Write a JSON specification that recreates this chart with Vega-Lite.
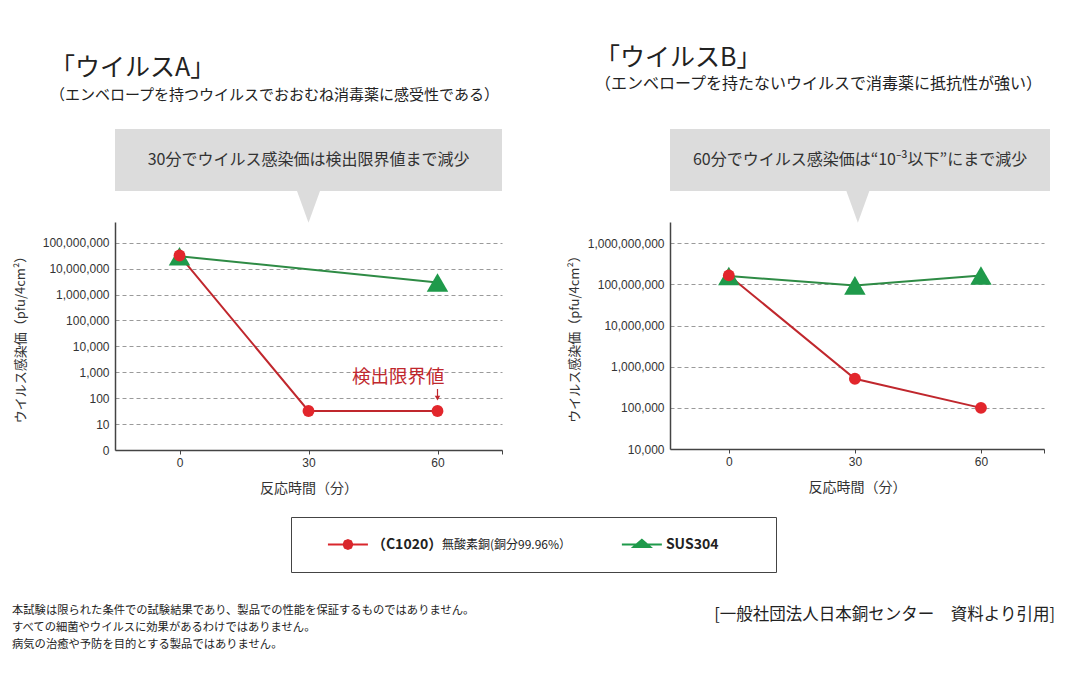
{
  "$schema": "https://vega.github.io/schema/vega-lite/v6.json",
  "background": "white",
  "padding": {"left": 12, "top": 46, "right": 5, "bottom": 5},
  "spacing": 21,
  "config": {
    "font": "Noto Sans CJK JP",
    "view": {"stroke": null},
    "axis": {"labelFont": "Liberation Sans", "titleFont": "Noto Sans CJK JP", "labelColor": "#333", "titleColor": "#333", "titleFontWeight": "normal", "labelFontSize": 12},
    "title": {"font": "Noto Sans CJK JP", "subtitleFont": "Noto Sans CJK JP", "color": "#222", "subtitleColor": "#222", "fontWeight": "normal", "anchor": "start", "frame": "group"}
  },
  "vconcat": [
    {
      "spacing": 65,
      "hconcat": [
        {
          "spacing": 31,
          "bounds": "flush",
          "vconcat": [
            {
              "width": 387,
              "height": 62,
              "view": {"fill": "#dcdcdc", "stroke": null},
              "title": {"text": "「ウイルスA」", "subtitle": "（エンベロープを持つウイルスでおおむね消毒薬に感受性である）", "fontSize": 25, "subtitleFontSize": 15, "dx": -65, "offset": 26, "subtitlePadding": 7},
              "layer": [
                {
                  "data": {"values": [{"msg": "30分でウイルス感染価は検出限界値まで減少"}]},
                  "mark": {"type": "text", "fontSize": 16, "color": "#333"},
                  "encoding": {"text": {"field": "msg"}}
                },
                {
                  "data": {"values": [{"id": 1}]},
                  "mark": {"type": "point", "shape": "M-1,0L1,0L0,2.75Z", "filled": true, "color": "#dcdcdc", "opacity": 1, "size": 529},
                  "encoding": {
                    "x": {"datum": 30, "type": "quantitative", "scale": {"domain": [-15, 75], "nice": false}, "axis": null},
                    "y": {"datum": 0, "type": "quantitative", "scale": {"domain": [0, 1], "nice": false}, "axis": null}
                  }
                }
              ]
            },
            {
              "width": 387,
              "height": 228,
              "layer": [
                {
                  "data": {"values": [
                    {"time": 0, "value": 30000000, "series": "SUS304"},
                    {"time": 60, "value": 2900000, "series": "SUS304"},
                    {"time": 0, "value": 32000000, "series": "C1020"},
                    {"time": 30, "value": 32, "series": "C1020"},
                    {"time": 60, "value": 32, "series": "C1020"}
                  ]},
                  "layer": [
                    {
                      "mark": {"type": "line", "strokeWidth": 2},
                      "encoding": {
                        "stroke": {"field": "series", "type": "nominal", "scale": {"domain": ["SUS304", "C1020"], "range": ["#2e8b45", "#c0272d"]}, "legend": null}
                      }
                    },
                    {
                      "mark": {"type": "point", "filled": true, "opacity": 1},
                      "encoding": {
                        "fill": {"field": "series", "type": "nominal", "scale": {"domain": ["SUS304", "C1020"], "range": ["#1f9a4b", "#e2262c"]}, "legend": null},
                        "shape": {"field": "series", "type": "nominal", "scale": {"domain": ["SUS304", "C1020"], "range": ["triangle-up", "circle"]}, "legend": null},
                        "size": {"field": "series", "type": "nominal", "scale": {"domain": ["SUS304", "C1020"], "range": [460, 140]}, "legend": null}
                      }
                    }
                  ],
                  "encoding": {
                    "x": {"field": "time", "type": "quantitative", "scale": {"domain": [-15, 75], "nice": false, "zero": false},
                      "axis": {"values": [0, 30, 60, 75], "labelExpr": "datum.value == 75 ? '' : datum.label", "title": "反応時間（分）", "grid": false, "domainColor": "#444", "domainWidth": 1.5, "tickColor": "#444", "tickSize": 4, "labelPadding": 3, "titleFontSize": 14, "titlePadding": 13}},
                    "y": {"field": "value", "type": "quantitative", "scale": {"type": "log", "domain": [1, 630000000], "nice": false},
                      "axis": {"values": [1, 10, 100, 1000, 10000, 100000, 1000000, 10000000, 100000000], "labelExpr": "datum.value == 1 ? '0' : format(datum.value, ',')", "title": "ウイルス感染価（pfu/4cm²）", "grid": true, "gridDash": [4, 3], "gridColor": "#9a9a9a", "ticks": false, "domainColor": "#444", "domainWidth": 1.5, "labelPadding": 6, "titleFontSize": 13, "titlePadding": 15}}
                  }
                },
                {
                  "data": {"values": [{"note": "検出限界値"}]},
                  "mark": {"type": "text", "fontSize": 18.5, "color": "#c0272d", "align": "right", "dx": 7},
                  "encoding": {"x": {"datum": 60, "type": "quantitative"}, "y": {"datum": 640, "type": "quantitative"}, "text": {"field": "note"}}
                },
                {
                  "data": {"values": [{"note": "arrow"}]},
                  "mark": {"type": "rule", "color": "#c0272d", "strokeWidth": 1.2},
                  "encoding": {"x": {"datum": 60, "type": "quantitative"}, "y": {"datum": 226, "type": "quantitative"}, "y2": {"datum": 120}}
                },
                {
                  "data": {"values": [{"note": "arrowhead"}]},
                  "mark": {"type": "point", "shape": "triangle-down", "filled": true, "color": "#c0272d", "opacity": 1, "size": 30},
                  "encoding": {"x": {"datum": 60, "type": "quantitative"}, "y": {"datum": 100, "type": "quantitative"}}
                }
              ]
            }
          ]
        },
        {
          "spacing": 31,
          "bounds": "flush",
          "vconcat": [
            {
              "width": 380,
              "height": 62,
              "view": {"fill": "#dcdcdc", "stroke": null},
              "title": {"text": "「ウイルスB」", "subtitle": "（エンベロープを持たないウイルスで消毒薬に抵抗性が強い）", "fontSize": 25, "subtitleFontSize": 16, "dx": -75, "offset": 37, "subtitlePadding": 5},
              "layer": [
                {
                  "data": {"values": [{"msg": "60分でウイルス感染価は“10⁻³以下”にまで減少"}]},
                  "mark": {"type": "text", "fontSize": 16, "color": "#333"},
                  "encoding": {"text": {"field": "msg"}}
                },
                {
                  "data": {"values": [{"id": 1}]},
                  "mark": {"type": "point", "shape": "M-1,0L1,0L0,2.75Z", "filled": true, "color": "#dcdcdc", "opacity": 1, "size": 529},
                  "encoding": {
                    "x": {"datum": 30, "type": "quantitative", "scale": {"domain": [-14, 75], "nice": false}, "axis": null},
                    "y": {"datum": 0, "type": "quantitative", "scale": {"domain": [0, 1], "nice": false}, "axis": null}
                  }
                }
              ]
            },
            {
              "width": 374,
              "height": 227,
              "data": {"values": [
                {"time": 0, "value": 160000000, "series": "SUS304"},
                {"time": 30, "value": 95000000, "series": "SUS304"},
                {"time": 60, "value": 165000000, "series": "SUS304"},
                {"time": 0, "value": 166000000, "series": "C1020"},
                {"time": 30, "value": 510000, "series": "C1020"},
                {"time": 60, "value": 100000, "series": "C1020"}
              ]},
              "layer": [
                {
                  "mark": {"type": "line", "strokeWidth": 2},
                  "encoding": {
                    "stroke": {"field": "series", "type": "nominal", "scale": {"domain": ["SUS304", "C1020"], "range": ["#2e8b45", "#c0272d"]}, "legend": null}
                  }
                },
                {
                  "mark": {"type": "point", "filled": true, "opacity": 1},
                  "encoding": {
                    "fill": {"field": "series", "type": "nominal", "scale": {"domain": ["SUS304", "C1020"], "range": ["#1f9a4b", "#e2262c"]}, "legend": null},
                    "shape": {"field": "series", "type": "nominal", "scale": {"domain": ["SUS304", "C1020"], "range": ["triangle-up", "circle"]}, "legend": null},
                    "size": {"field": "series", "type": "nominal", "scale": {"domain": ["SUS304", "C1020"], "range": [460, 140]}, "legend": null}
                  }
                }
              ],
              "encoding": {
                "x": {"field": "time", "type": "quantitative", "scale": {"domain": [-14, 75], "nice": false, "zero": false},
                  "axis": {"values": [0, 30, 60, 75], "labelExpr": "datum.value == 75 ? '' : datum.label", "title": "反応時間（分）", "grid": false, "domainColor": "#444", "domainWidth": 1.5, "tickColor": "#444", "tickSize": 4, "labelPadding": 3, "titleFontSize": 14, "titlePadding": 13}},
                "y": {"field": "value", "type": "quantitative", "scale": {"type": "log", "domain": [10000, 3300000000], "nice": false},
                  "axis": {"values": [10000, 100000, 1000000, 10000000, 100000000, 1000000000], "labelExpr": "format(datum.value, ',')", "title": "ウイルス感染価（pfu/4cm²）", "grid": true, "gridDash": [4, 3], "gridColor": "#9a9a9a", "ticks": false, "domainColor": "#444", "domainWidth": 1.5, "labelPadding": 6, "titleFontSize": 13, "titlePadding": 6}}
              }
            }
          ]
        }
      ]
    },
    {
      "spacing": 0,
      "hconcat": [
        {
          "width": 175,
          "height": 55,
          "data": {"values": []},
          "mark": {"type": "point"},
          "encoding": {},
          "view": {"stroke": null}
        },
        {
          "width": 485,
          "height": 55,
          "view": {"stroke": "#444", "strokeWidth": 1, "fill": "white"},
          "data": {"values": [
            {"series": "C1020", "code": "（C1020）", "name": "無酸素銅(銅分99.96%）"},
            {"series": "SUS304", "code": "SUS304", "name": ""}
          ]},
          "encoding": {
            "x": {"field": "series", "type": "nominal", "sort": ["C1020", "SUS304"], "scale": {"type": "point", "padding": 0.325, "align": 0.298}, "axis": null}
          },
          "layer": [
            {
              "transform": [{"filter": "datum.series == 'C1020'"}],
              "mark": {"type": "point", "shape": "M-1,0L1,0M-0.22,0L-0.156,-0.156L0,-0.22L0.156,-0.156L0.22,0L0.156,0.156L0,0.22L-0.156,0.156Z", "filled": true, "fill": "#d9262c", "stroke": "#d9262c", "strokeWidth": 2, "opacity": 1, "size": 1600}
            },
            {
              "transform": [{"filter": "datum.series == 'SUS304'"}],
              "mark": {"type": "point", "shape": "M-1,0L1,0M-0.42,0.12L0.42,0.12L0,-0.24Z", "filled": true, "fill": "#1f9a4b", "stroke": "#1f9a4b", "strokeWidth": 2, "opacity": 1, "size": 1600}
            },
            {
              "mark": {"type": "text", "align": "left", "dx": 24, "fontSize": 14, "fontWeight": "bold", "color": "#222"},
              "encoding": {"text": {"field": "code"}}
            },
            {
              "mark": {"type": "text", "align": "left", "dx": 94, "fontSize": 12, "color": "#222"},
              "encoding": {"text": {"field": "name"}}
            }
          ]
        }
      ]
    },
    {
      "width": 940,
      "height": 54,
      "layer": [
        {
          "data": {"values": [
            {"line": "本試験は限られた条件での試験結果であり、製品での性能を保証するものではありません。"},
            {"line": "すべての細菌やウイルスに効果があるわけではありません。"},
            {"line": "病気の治癒や予防を目的とする製品ではありません。"}
          ]},
          "mark": {"type": "text", "align": "left", "dx": -103, "fontSize": 11.3, "color": "#222"},
          "encoding": {
            "x": {"datum": 0, "type": "quantitative", "scale": {"domain": [0, 1], "nice": false}, "axis": null},
            "y": {"field": "line", "type": "nominal", "sort": null, "scale": {"type": "point", "padding": 0.6, "align": 0.85}, "axis": null},
            "text": {"field": "line"}
          }
        },
        {
          "data": {"values": [{"cite": "[一般社団法人日本銅センター　資料より引用]"}]},
          "mark": {"type": "text", "align": "right", "fontSize": 16.5, "color": "#222", "dy": -6},
          "encoding": {"x": {"datum": 1, "type": "quantitative"}, "text": {"field": "cite"}}
        }
      ]
    }
  ]
}
